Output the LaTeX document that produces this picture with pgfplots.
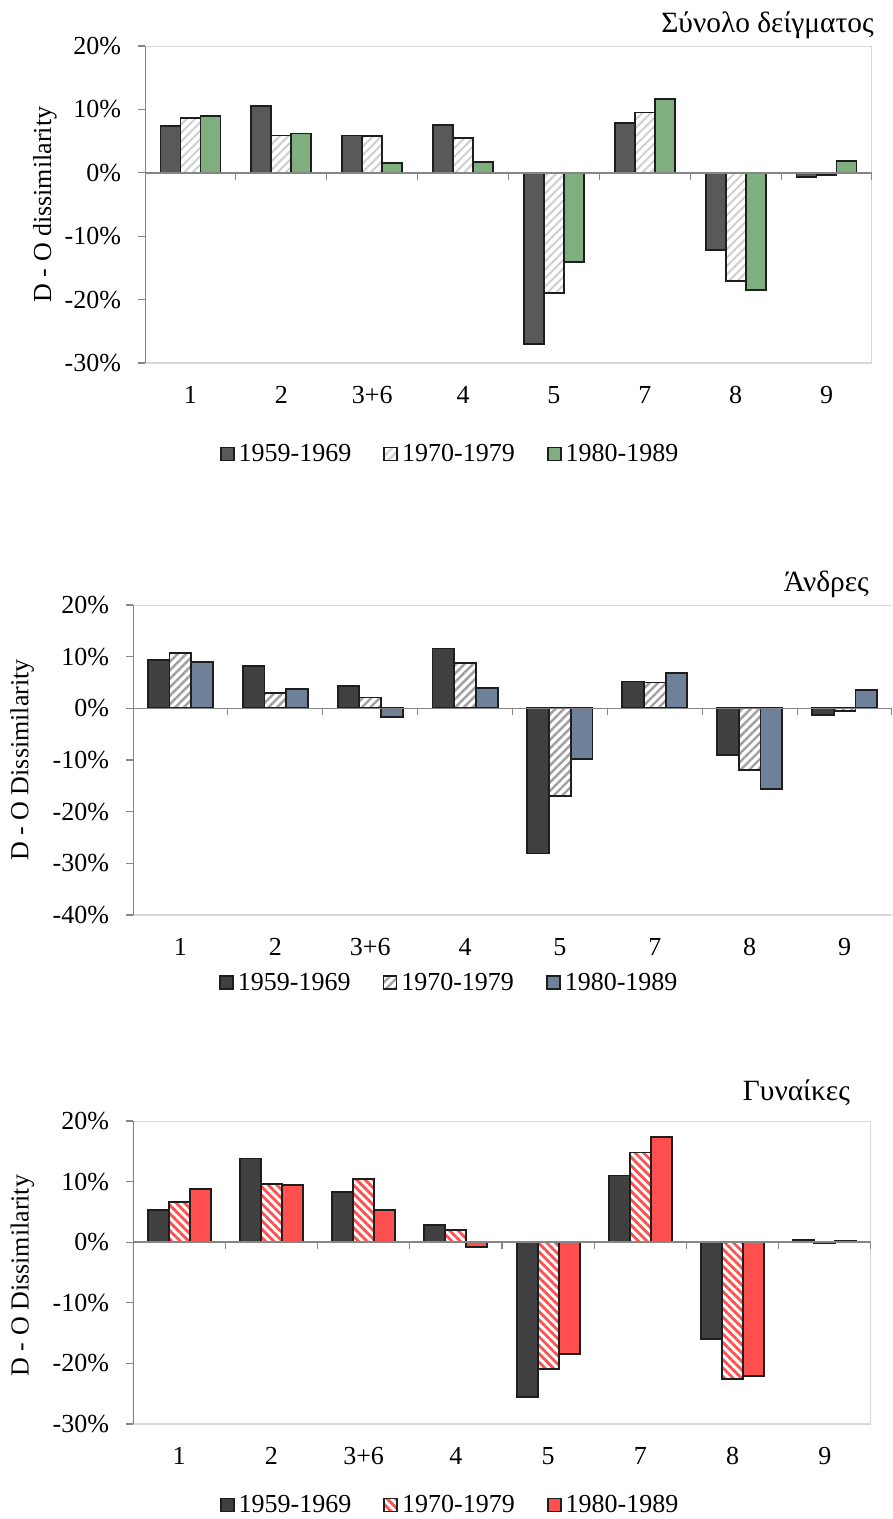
\documentclass[border=0pt]{standalone}
\usepackage{fontspec}
\setmainfont{Liberation Serif}
\usepackage{pgfplots}
\pgfplotsset{compat=1.18}
\usetikzlibrary{patterns.meta}
\definecolor{axisgray}{HTML}{868686}
\definecolor{lightborder}{HTML}{D9D9D9}
\definecolor{darkA}{HTML}{595959}
\definecolor{darkB}{HTML}{404040}
\definecolor{greenC}{HTML}{7FAF7F}
\definecolor{blueC}{HTML}{6F8199}
\definecolor{redC}{HTML}{FF4F4F}
\definecolor{hatchA}{HTML}{CFCFCF}
\definecolor{hatchB}{HTML}{A0A0A0}
\definecolor{edge}{HTML}{1E1E1E}
\newcommand\fs{\fontsize{13}{15}\selectfont}
\newcommand\ft{\fontsize{14.7}{17}\selectfont}

\pgfplotstableread{
x a b c
0 7.4 8.7 8.9
1 10.6 5.9 6.2
2 5.9 5.8 1.6
3 7.5 5.5 1.7
4 -27.0 -18.9 -14.1
5 7.8 9.5 11.7
6 -12.2 -17.1 -18.5
7 -0.6 -0.4 1.9
}\tot
\pgfplotstableread{
x a b c
0 9.3 10.7 9.0
1 8.2 3.0 3.7
2 4.3 2.1 -1.6
3 11.6 8.7 4.0
4 -28.1 -16.9 -9.8
5 5.2 5.0 6.9
6 -9.0 -12.0 -15.6
7 -1.3 -0.5 3.5
}\men
\pgfplotstableread{
x a b c
0 5.3 6.6 8.8
1 13.8 9.6 9.4
2 8.3 10.4 5.3
3 2.8 2.0 -0.8
4 -25.6 -20.9 -18.4
5 11.0 14.8 17.4
6 -16.0 -22.6 -22.1
7 0.4 -0.2 0.3
}\wom

\pgfplotsset{
  panel/.style={
    scale only axis, ybar=0pt, xmin=-0.5, xmax=7.5,
    xtick={0,...,7}, xticklabels={1,2,3+6,4,5,7,8,9},
    xtick style={draw=none}, ytick pos=left, xtick pos=bottom,
    tick align=outside, major tick length=3.5pt,
    ytick style={draw=axisgray, line width=0.6pt},
    axis line style={draw=none},
    yticklabel={\pgfmathprintnumber{\tick}\%},
    /pgf/number format/assume math mode=true,
    tick label style={font=\fs},
    xticklabel style={yshift=-4.5pt},
    yticklabel style={xshift=-5pt},
    label style={font=\fs}, title style={font=\ft, inner sep=0pt},
    every axis title shift=0pt,
    legend style={font=\fs, draw=none, fill=none, legend columns=3, anchor=center,
      /tikz/every even column/.append style={column sep=14pt}},
    legend cell align=left,
  },
  sq/.style={legend image code/.code={\draw[##1] (0pt,-3.25pt) rectangle (6.5pt,3.25pt);}},
  bars/.style={draw=edge, line width=0.9pt, sq},
}
\newcommand\panelframe[1]{%
  \draw[lightborder, line width=0.6pt] (rel axis cs:0,1) -- (rel axis cs:1,1)
     #1 (rel axis cs:1,0) -- (rel axis cs:0,0);
  \draw[axisgray, line width=0.7pt] (rel axis cs:0,0) -- (rel axis cs:0,1);
  \draw[axisgray, line width=0.8pt] (axis cs:-0.5,0) -- (axis cs:7.5,0);
  \pgfplotsinvokeforeach{0.5,1.5,2.5,3.5,4.5,5.5,6.5,7.5}{%
    \draw[axisgray, line width=0.6pt] (axis cs:##1,0) -- ([yshift=-3.5pt]axis cs:##1,0);}%
}

\begin{document}
\begin{tikzpicture}
\path[use as bounding box] (0,0) rectangle (446.5pt,-759.5pt);

% Panel 1
\begin{axis}[panel, at={(72.5pt,-181.5pt)}, anchor=south west,
  width=363.5pt, height=158.5pt, ymin=-30, ymax=20, ytick={-30,-20,...,20},
  bar width=10pt,
  ylabel={D - O dissimilarity},
  ylabel style={at={(axis description cs:-0.1376,0.5)}, anchor=center},
  title={Σύνολο δείγματος},
  title style={at={(axis description cs:1.003,1.066)}, anchor=east},
  legend style={at={(axis description cs:0.421,-0.287)}},
]
\addplot[bars, fill=darkA] table[x=x,y=a]{\tot};
\addplot[bars, fill=white, postaction={pattern={Lines[angle=45,distance=3pt,line width=1pt]}, pattern color=hatchA}] table[x=x,y=b]{\tot};
\addplot[bars, fill=greenC] table[x=x,y=c]{\tot};
\legend{1959-1969,1970-1979,1980-1989}
\panelframe{--}
\end{axis}

% Panel 2
\begin{axis}[panel, at={(66.5pt,-457.5pt)}, anchor=south west,
  width=379.5pt, height=155pt, ymin=-40, ymax=20, ytick={-40,-30,...,20},
  bar width=10.85pt,
  ylabel={D - O Dissimilarity},
  ylabel style={at={(axis description cs:-0.146,0.5)}, anchor=center},
  title={Άνδρες},
  title style={at={(axis description cs:0.970,1.065)}, anchor=east},
  legend style={at={(axis description cs:0.418,-0.219)}},
]
\addplot[bars, fill=darkB] table[x=x,y=a]{\men};
\addplot[bars, fill=white, postaction={pattern={Lines[angle=45,distance=3pt,line width=1.2pt]}, pattern color=hatchB}] table[x=x,y=b]{\men};
\addplot[bars, fill=blueC] table[x=x,y=c]{\men};
\legend{1959-1969,1970-1979,1980-1989}
\panelframe{ }
\end{axis}

% Panel 3
\begin{axis}[panel, at={(66.5pt,-712pt)}, anchor=south west,
  width=369pt, height=151.5pt, ymin=-30, ymax=20, ytick={-30,-20,...,20},
  bar width=10.5pt,
  ylabel={D - O Dissimilarity},
  ylabel style={at={(axis description cs:-0.150,0.49)}, anchor=center},
  title={Γυναίκες},
  title style={at={(axis description cs:0.972,1.092)}, anchor=east},
  legend style={at={(axis description cs:0.431,-0.267)}},
]
\addplot[bars, fill=darkB] table[x=x,y=a]{\wom};
\addplot[bars, fill=white, postaction={pattern={Lines[angle=-45,distance=3pt,line width=1.4pt]}, pattern color=redC}] table[x=x,y=b]{\wom};
\addplot[bars, fill=redC] table[x=x,y=c]{\wom};
\legend{1959-1969,1970-1979,1980-1989}
\panelframe{--}
\end{axis}
\end{tikzpicture}
\end{document}
